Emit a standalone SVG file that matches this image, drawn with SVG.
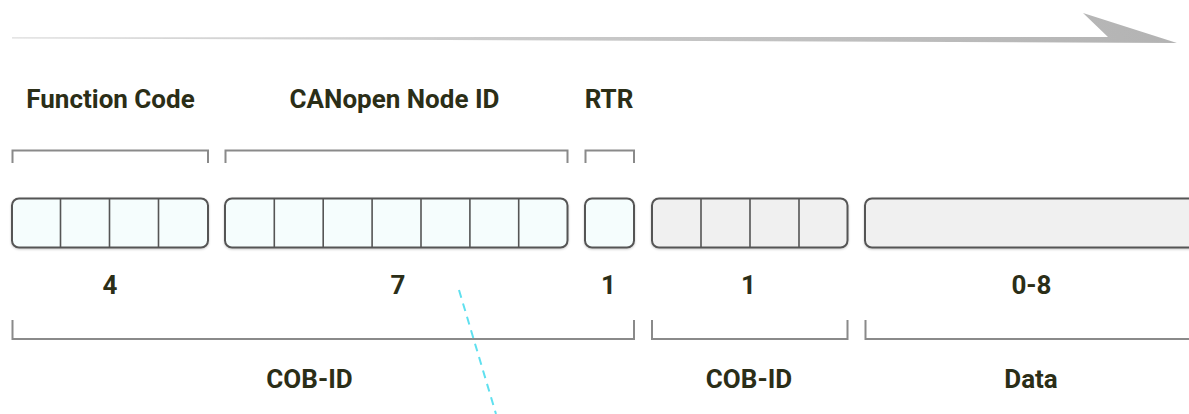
<svg xmlns="http://www.w3.org/2000/svg" width="1189" height="414" viewBox="0 0 1189 414">
<defs>
<linearGradient id="arrowGrad" x1="0" y1="0" x2="1" y2="0">
<stop offset="0" stop-color="#dcdcdc"/>
<stop offset="1" stop-color="#b3b3b3"/>
</linearGradient>
<filter id="sh" x="-5%" y="-20%" width="110%" height="150%">
<feDropShadow dx="0" dy="1" stdDeviation="1" flood-color="#000" flood-opacity="0.2"/>
</filter>
</defs>
<style>
.t{font-family:Roboto,"Liberation Sans",sans-serif;font-weight:bold;font-size:26px;fill:#2b2e17;text-anchor:middle}
.br{fill:none;stroke:#8a8a8a;stroke-width:2}
.bx{stroke:#555;stroke-width:2;filter:url(#sh)}
.cy{fill:#f5fdfd}
.gr{fill:#f0f0f0}
.dv{stroke:#555;stroke-width:1.6}
</style>
<rect width="1189" height="414" fill="#fff"/>
<g id="direction-arrow">
<polygon points="12,37.2 1108,37 1083,13 1177,43 12,38.4" fill="url(#arrowGrad)"/>
</g>
<g id="labels-top">
<text class="t" x="110.5" y="108">Function Code</text>
<text class="t" x="394.5" y="108">CANopen Node ID</text>
<text class="t" x="609" y="108">RTR</text>
</g>
<g id="brackets-top">
<path class="br" d="M12.5,163 V150.5 H208 V163"/>
<path class="br" d="M225.5,163 V150.5 H567.5 V163"/>
<path class="br" d="M585.5,163 V150.5 H634 V163"/>
</g>
<g id="node-function-code">
<rect class="bx cy" x="12" y="198.5" width="196" height="49" rx="7"/>
<path class="dv" d="M60.5,198.5 V247.5 M109.5,198.5 V247.5 M158.5,198.5 V247.5"/>
</g>
<g id="node-node-id">
<rect class="bx cy" x="225" y="198.5" width="342.5" height="49" rx="7"/>
<path class="dv" d="M274.3,198.5 V247.5 M323.2,198.5 V247.5 M372.1,198.5 V247.5 M421,198.5 V247.5 M469.9,198.5 V247.5 M518.7,198.5 V247.5"/>
</g>
<g id="node-rtr">
<rect class="bx cy" x="585" y="198.5" width="49" height="49" rx="7"/>
</g>
<g id="node-cob-id-2">
<rect class="bx gr" x="652" y="198.5" width="195.5" height="49" rx="7"/>
<path class="dv" d="M701,198.5 V247.5 M750,198.5 V247.5 M799,198.5 V247.5"/>
</g>
<g id="node-data">
<rect class="bx gr" x="865" y="198.5" width="340" height="49" rx="7"/>
</g>
<g id="labels-count">
<text class="t" x="110" y="294">4</text>
<text class="t" x="398" y="294">7</text>
<text class="t" x="608.5" y="294">1</text>
<text class="t" x="748.5" y="294">1</text>
<text class="t" x="1031.5" y="294">0-8</text>
</g>
<g id="brackets-bottom">
<path class="br" d="M12.5,320 V339 H634 V320"/>
<path class="br" d="M652,320 V339 H847.5 V320"/>
<path class="br" d="M865.5,320 V339 H1200"/>
</g>
<g id="labels-bottom">
<text class="t" x="309.5" y="388">COB-ID</text>
<text class="t" x="749" y="388">COB-ID</text>
<text class="t" x="1031" y="388">Data</text>
</g>
<g id="connectors">
<line x1="459" y1="290" x2="496" y2="414" stroke="#5fe0ef" stroke-width="2" stroke-dasharray="8,6"/>
</g>
</svg>
